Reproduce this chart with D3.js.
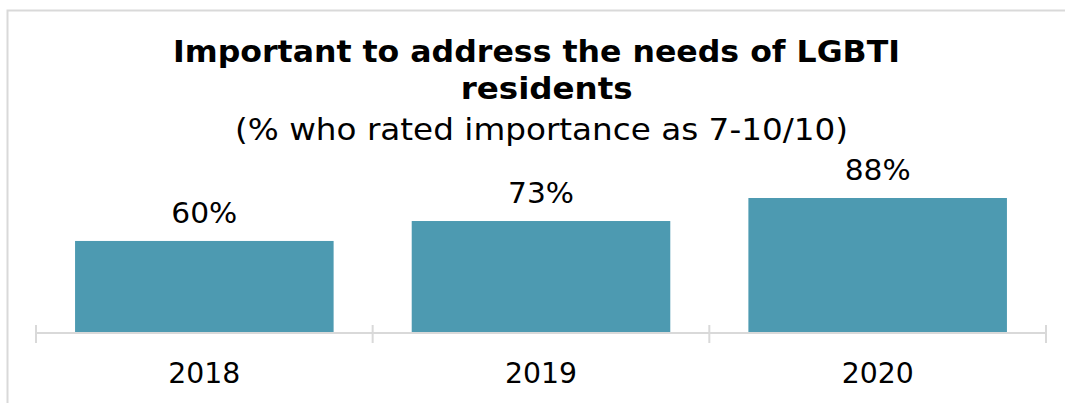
<!DOCTYPE html>
<html>
<head>
<meta charset="utf-8">
<script src="https://cdn.jsdelivr.net/npm/d3@7"></script>
<style>
  html, body { margin: 0; padding: 0; background: #fff; }
  svg { display: block; }
</style>
</head>
<body>
<svg id="chart" width="1065" height="403"></svg>
<script>
// Survey results by year
const years = ["2018", "2019", "2020"];
const shares = [60, 73, 88];
const titleLines = ["Important to address the needs of LGBTI", "residents"];
const subtitle = "(% who rated importance as 7-10/10)";

const W = 1065, H = 403;
const svg = d3.select("#chart");
const font = "DejaVu Sans, Verdana, sans-serif";

// Frame around the chart area
svg.append("rect")
  .attr("x", 7.5).attr("y", 10.5)
  .attr("width", W + 10).attr("height", H + 10)
  .attr("fill", "none").attr("stroke", "#d9d9d9").attr("stroke-width", 2);

const baseY = 333;
const x = d3.scaleBand()
  .domain(years)
  .range([36, 1046])
  .paddingInner(0.232)
  .paddingOuter(0.116);

const y = d3.scaleLinear().domain([0, 100]).range([baseY, baseY - 153.4]);

// Bars
svg.append("g").selectAll("rect")
  .data(years)
  .join("rect")
  .attr("x", d => x(d))
  .attr("width", x.bandwidth())
  .attr("y", (d, i) => y(shares[i]))
  .attr("height", (d, i) => baseY - y(shares[i]))
  .attr("fill", "#4d9ab1");

// Value labels
svg.append("g").selectAll("text")
  .data(years)
  .join("text")
  .attr("x", d => x(d) + x.bandwidth() / 2)
  .attr("y", (d, i) => y(shares[i]) - 18)
  .attr("text-anchor", "middle")
  .attr("font-family", font)
  .attr("font-size", 29)
  .attr("textLength", 66)
  .attr("lengthAdjust", "spacingAndGlyphs")
  .attr("fill", "#000")
  .text((d, i) => shares[i] + "%");

// Category axis: baseline with boundary ticks between categories
const boundaries = d3.range(years.length + 1).map(i => 36 + i * (1010 / years.length));
const axis = svg.append("g");
axis.append("line")
  .attr("x1", 36).attr("x2", 1046)
  .attr("y1", baseY).attr("y2", baseY)
  .attr("stroke", "#d9d9d9").attr("stroke-width", 2);
axis.selectAll("line.tick")
  .data(boundaries)
  .join("line")
  .attr("class", "tick")
  .attr("x1", d => d).attr("x2", d => d)
  .attr("y1", baseY - 8).attr("y2", baseY + 10)
  .attr("stroke", "#d9d9d9").attr("stroke-width", 2);
axis.selectAll("text")
  .data(years)
  .join("text")
  .attr("x", d => x(d) + x.bandwidth() / 2)
  .attr("y", 383)
  .attr("text-anchor", "middle")
  .attr("font-family", font)
  .attr("font-size", 29)
  .attr("textLength", 72)
  .attr("lengthAdjust", "spacingAndGlyphs")
  .attr("fill", "#000")
  .text(d => d);

// Title and subtitle
const titlePos = [
  { cx: 536.5, y: 62, len: 727 },
  { cx: 546.7, y: 98.5, len: 172 }
];
svg.append("g").selectAll("text")
  .data(titleLines)
  .join("text")
  .attr("x", (d, i) => titlePos[i].cx)
  .attr("y", (d, i) => titlePos[i].y)
  .attr("text-anchor", "middle")
  .attr("font-family", font)
  .attr("font-weight", "bold")
  .attr("font-size", 30.5)
  .attr("textLength", (d, i) => titlePos[i].len)
  .attr("lengthAdjust", "spacingAndGlyphs")
  .attr("fill", "#000")
  .text(d => d);

svg.append("text")
  .attr("x", 541.5)
  .attr("y", 140)
  .attr("text-anchor", "middle")
  .attr("font-family", font)
  .attr("font-size", 31)
  .attr("textLength", 613)
  .attr("lengthAdjust", "spacingAndGlyphs")
  .attr("fill", "#000")
  .text(subtitle);
</script>
</body>
</html>
